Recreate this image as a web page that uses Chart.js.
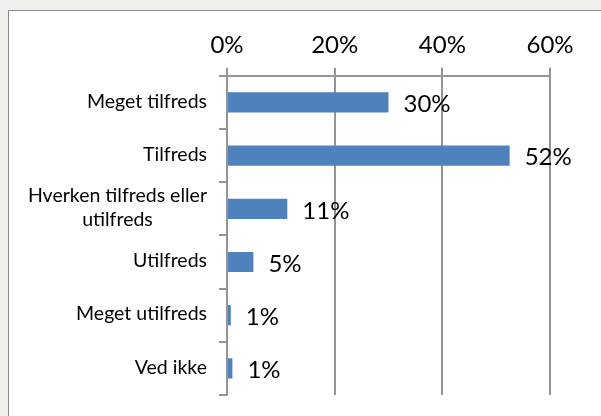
<!DOCTYPE html>
<html>
<head>
<meta charset="utf-8">
<script src="https://cdn.jsdelivr.net/npm/chart.js@4.4.0/dist/chart.umd.min.js"></script>
<style>
    html, body { margin: 0; padding: 0; }
    body { width: 601px; height: 416px; background: #f0efeb; position: relative; overflow: hidden; }
    #frame {
        position: absolute; left: 8px; top: 10px; width: 620px; height: 430px;
        background: #ffffff; border-left: 1px solid #8c8c8c; border-top: 1px solid #8c8c8c;
    }
    #wrap { position: absolute; left: 0; top: 0; width: 601px; height: 416px; }
</style>
</head>
<body>
<div id="frame"></div>
<div id="wrap"><canvas id="chart" width="601" height="416"></canvas></div>
<script>
// Data
const categories = [
    'Meget tilfreds',
    'Tilfreds',
    ['Hverken tilfreds eller', 'utilfreds'],
    'Utilfreds',
    'Meget utilfreds',
    'Ved ikke'
];
const shares = [30, 52.5, 11.2, 4.9, 0.7, 1.0];
const shareLabels = ['30%', '52%', '11%', '5%', '1%', '1%'];
const xTicks = [0, 20, 40, 60];

const FONT = 'Lato, "Open Sans", sans-serif';
const AXIS_GREY = '#959595';

// Category labels: right-aligned block, lines centred inside it
const categoryLabels = {
    id: 'categoryLabels',
    afterDraw(chart) {
        const ctx = chart.ctx;
        const yScale = chart.scales.y;
        const right = chart.chartArea.left - 20;
        const lineH = 24.5;
        ctx.save();
        ctx.font = '19.5px ' + FONT;
        ctx.fillStyle = '#000000';
        ctx.textBaseline = 'middle';
        ctx.textAlign = 'center';
        categories.forEach((cat, i) => {
            const lines = Array.isArray(cat) ? cat : [cat];
            const widest = Math.max(...lines.map(l => ctx.measureText(l).width));
            const cx = right - widest / 2;
            const cy = yScale.getPixelForValue(i) - 1;
            const startY = cy - (lines.length - 1) * lineH / 2;
            lines.forEach((l, j) => ctx.fillText(l, cx, startY + j * lineH));
        });
        ctx.restore();
    }
};

// Value labels to the right of each bar
const valueLabels = {
    id: 'valueLabels',
    afterDatasetsDraw(chart) {
        const ctx = chart.ctx;
        const meta = chart.getDatasetMeta(0);
        ctx.save();
        ctx.font = '24px ' + FONT;
        ctx.fillStyle = '#000000';
        ctx.textBaseline = 'middle';
        ctx.textAlign = 'left';
        meta.data.forEach((bar, i) => {
            ctx.fillText(shareLabels[i], bar.x + 15, bar.y + 2);
        });
        ctx.restore();
    }
};

new Chart(document.getElementById('chart'), {
    type: 'bar',
    data: {
        labels: categories,
        datasets: [{
            data: shares,
            backgroundColor: '#4f81bd',
            borderWidth: 0,
            barPercentage: 0.76,
            categoryPercentage: 0.5
        }]
    },
    options: {
        indexAxis: 'y',
        responsive: false,
        animation: false,
        layout: { padding: { left: 219, right: 51, top: 23, bottom: 21 } },
        plugins: {
            legend: { display: false },
            tooltip: { enabled: false },
            title: { display: false }
        },
        scales: {
            x: {
                position: 'top',
                min: 0,
                max: 60,
                afterBuildTicks(scale) {
                    scale.ticks = xTicks.map(v => ({ value: v }));
                },
                ticks: {
                    callback: v => v + '%',
                    color: '#000000',
                    font: { family: FONT, size: 24 },
                    padding: 8
                },
                grid: {
                    color: AXIS_GREY,
                    lineWidth: 2,
                    tickLength: 8,
                    drawOnChartArea: true
                },
                border: { display: true, color: AXIS_GREY, width: 2 }
            },
            y: {
                ticks: { display: false },
                grid: {
                    color: AXIS_GREY,
                    lineWidth: 2,
                    tickLength: 8,
                    drawOnChartArea: false,
                    offset: true
                },
                border: { display: true, color: AXIS_GREY, width: 2 }
            }
        }
    },
    plugins: [categoryLabels, valueLabels]
});
</script>
</body>
</html>
